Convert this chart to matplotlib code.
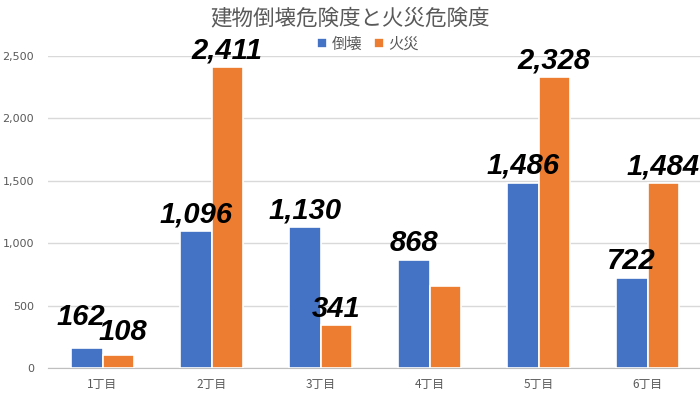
import matplotlib
matplotlib.use("Agg")
import matplotlib.pyplot as plt
import numpy as np

plt.rcParams['font.family'] = ['Noto Sans CJK JP', 'DejaVu Sans']

categories = ["1丁目", "2丁目", "3丁目", "4丁目", "5丁目", "6丁目"]
collapse = [162, 1096, 1130, 868, 1486, 722]
fire = [108, 2411, 341, 655, 2328, 1484]
collapse_labels = [True, True, True, True, True, True]
fire_labels = [True, True, True, False, True, True]
yticks = [0, 500, 1000, 1500, 2000, 2500]

blue = "#4472C4"
orange = "#ED7D31"
gray = "#595959"

fig = plt.figure(figsize=(7, 3.94), dpi=100)
ax = fig.add_axes([48/700, 1-368/394, 654/700, (368-56)/394])

x = np.arange(len(categories))
w = 0.29
ax.bar(x - w/2, collapse, w, color=blue, edgecolor="white", linewidth=1.2, label="倒壊", zorder=3)
ax.bar(x + w/2, fire, w, color=orange, edgecolor="white", linewidth=1.2, label="火災", zorder=3)

numfont = dict(family="Liberation Sans", fontweight="bold", fontstyle="italic", fontsize=21, color="black")
for i in range(len(categories)):
    if collapse_labels[i]:
        dx, dy = (-4, 12) if i == 0 else (0, 2)
        ax.annotate(f"{collapse[i]:,}", (x[i] - w/2, collapse[i]), xytext=(dx, dy), textcoords="offset points",
                    ha="center", va="bottom", annotation_clip=False, zorder=5, **numfont)
    if fire_labels[i]:
        dx, dy = (3, 6) if i == 0 else (0, 2)
        ax.annotate(f"{fire[i]:,}", (x[i] + w/2, fire[i]), xytext=(dx, dy), textcoords="offset points",
                    ha="center", va="bottom", annotation_clip=False, zorder=5, **numfont)

ax.set_xlim(-0.5, len(categories) - 0.5)
ax.set_ylim(0, 2500)
ax.set_yticks(yticks)
ax.set_yticklabels([f"{v:,}" for v in yticks], fontsize=8, color=gray, family="DejaVu Sans")
ax.set_xticks(x)
ax.set_xticklabels(categories, fontsize=8.5, color=gray)
ax.tick_params(axis="y", length=0, pad=10)
ax.tick_params(axis="x", length=0, pad=7)
ax.grid(axis="y", color="#d9d9d9", linewidth=1, zorder=0)
for s in ["top", "right", "left"]:
    ax.spines[s].set_visible(False)
ax.spines["bottom"].set_color("#bfbfbf")

fig.text(0.5, 1-18/394, "建物倒壊危険度と火災危険度", ha="center", va="center", fontsize=15.5, color=gray)
fig.legend(loc="center", bbox_to_anchor=(368/700, 1-44/394), ncol=2, frameon=False, fontsize=11,
           handlelength=0.65, handleheight=0.65, handletextpad=0.3, columnspacing=0.8, labelcolor=gray)

fig.savefig("out.png", dpi=100, facecolor="white")
